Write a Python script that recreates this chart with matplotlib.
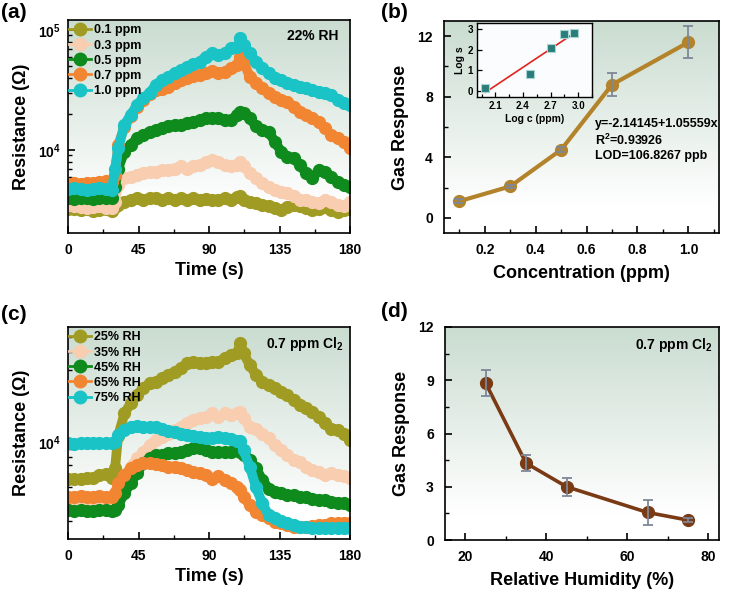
import numpy as np
import matplotlib
matplotlib.use('Agg')
import matplotlib.pyplot as plt
from matplotlib.colors import LinearSegmentedColormap
from matplotlib.lines import Line2D
from matplotlib.ticker import MultipleLocator, LogLocator, NullFormatter, FuncFormatter

plt.rcParams['font.family'] = ['Liberation Sans', 'DejaVu Sans']
plt.rcParams['font.weight'] = 'bold'
plt.rcParams['axes.labelweight'] = 'bold'
plt.rcParams['mathtext.fontset'] = 'custom'
plt.rcParams['mathtext.rm'] = 'Liberation Sans:bold'
plt.rcParams['mathtext.bf'] = 'Liberation Sans:bold'
plt.rcParams['mathtext.it'] = 'Liberation Sans:bold:italic'

# ---------------- data ----------------
# time grid (s), shared by the transient curves of (a) and (c)
time_s = [0, 4, 8, 12, 16, 20, 24, 28, 30,
          32, 36, 40, 44, 48, 52, 56, 60, 64, 68, 72, 76, 80, 84, 88, 92, 96, 100, 104, 108,
          110,
          112, 116, 120, 124, 128, 132, 136, 140, 144, 148, 152, 156, 160, 164, 168, 172, 176, 180]

# (a) resistance in kOhm at 22% RH
conc_labels = ['0.1 ppm', '0.3 ppm', '0.5 ppm', '0.7 ppm', '1.0 ppm']
r_01ppm = [3.25, 3.2, 3.15, 3.2, 3.1, 3.15, 3.2, 3.1, 3.35,
           3.5, 3.7, 3.85, 3.95, 3.85, 3.95, 4.0, 3.85, 3.95, 3.85, 3.95, 3.85, 3.95, 3.85, 3.9, 3.85, 3.85, 3.95, 3.85, 4.05,
           4.1,
           3.85, 3.7, 3.6, 3.5, 3.4, 3.3, 3.15, 3.35, 3.5, 3.4, 3.3, 3.15, 3.25, 3.35, 3.15, 3.05, 3.15, 3.25]
r_03ppm = [3.5, 3.4, 3.35, 3.3, 3.35, 3.4, 3.3, 3.27, 3.7,
           5.1, 5.8, 6.0, 6.2, 6.4, 6.6, 6.6, 6.8, 6.8, 7.0, 7.3, 7.0, 7.3, 7.5, 8.0, 8.25, 8.0, 7.5, 7.3, 7.5,
           8.0,
           7.3, 6.4, 5.8, 5.3, 4.9, 4.6, 4.5, 4.35, 4.1, 3.85, 3.85, 3.7, 3.6, 3.8, 3.7, 3.5, 3.4, 3.7]
r_05ppm = [3.95, 3.9, 4.0, 3.95, 3.9, 3.95, 4.0, 3.95, 4.9,
           7.0, 9.7, 11.0, 12.5, 13.3, 14.2, 14.7, 15.2, 15.7, 16.2, 16.2, 16.7, 17.2, 17.8, 18.4, 18.4, 18.4, 17.8, 17.8, 19.6,
           20.8,
           20.2, 18.4, 15.7, 14.7, 14.2, 11.7, 9.7, 8.8, 8.5, 7.5, 6.4, 5.8, 6.8, 6.6, 6.0, 5.4, 5.1, 4.9]
r_07ppm = [5.2, 5.3, 5.2, 5.3, 5.3, 5.4, 5.5, 5.4, 6.2,
           11.0, 15.5, 19.0, 23.0, 26.0, 29.0, 31.5, 32.0, 33.7, 35.9, 38.3, 39.6, 41.4, 42.2, 43.5, 45.5, 43.5, 45.0, 48.0, 51.1,
           59.9,
           54.4, 40.8, 35.9, 32.7, 29.7, 27.8, 26.1, 25.3, 23.0, 20.8, 19.6, 18.4, 17.2, 15.2, 13.3, 12.5, 11.7, 10.3]
r_10ppm = [4.7, 4.8, 4.7, 4.6, 4.7, 4.8, 4.7, 4.6, 7.0,
           10.3, 16.2, 19.6, 23.7, 27.0, 29.7, 34.8, 38.3, 40.8, 43.5, 46.4, 49.4, 51.8, 54.4, 59.9, 63.9, 61.9, 63.9, 70.3, 72.4,
           85.0,
           75.0, 63.9, 54.4, 48.0, 43.5, 39.6, 38.3, 35.9, 34.8, 33.7, 32.7, 31.6, 30.6, 29.7, 28.7, 26.1, 24.5, 23.7]

# (c) resistance in kOhm at 0.7 ppm Cl2
rh_labels = ['25% RH', '35% RH', '45% RH', '65% RH', '75% RH']
r_25rh = [5.7, 5.65, 5.7, 5.75, 5.8, 6.0, 6.1, 5.8, 6.7,
          11.0, 15.5, 18.1, 20.6, 22.8, 24.6, 25.2, 26.6, 28.0, 29.4, 31.0, 33.4, 34.3, 33.4, 33.4, 34.3, 34.3, 36.1, 38.0, 39.0,
          45.5,
          39.0, 32.6, 28.0, 25.2, 24.0, 22.8, 21.7, 20.6, 19.1, 17.6, 16.8, 15.9, 14.7, 13.3, 12.3, 12.0, 11.4, 10.3]
r_35rh = [4.0, 4.0, 3.95, 4.0, 4.05, 4.0, 3.95, 4.0, 4.15,
          5.0, 5.9, 6.85, 7.8, 8.6, 9.5, 10.3, 10.8, 11.4, 12.0, 12.6, 13.3, 14.0, 14.4, 14.7, 15.5, 14.7, 15.5, 15.1, 15.5,
          15.9,
          14.4, 12.6, 12.3, 11.4, 10.6, 9.5, 8.8, 8.2, 7.6, 7.4, 6.85, 6.5, 6.3, 6.0, 6.2, 6.0, 5.9, 5.8]
r_45rh = [3.5, 3.45, 3.5, 3.45, 3.45, 3.5, 3.5, 3.45, 3.5,
          3.8, 4.55, 5.3, 6.2, 7.2, 7.8, 8.2, 8.2, 8.4, 8.4, 8.6, 8.85, 9.1, 9.1, 8.85, 8.6, 8.6, 8.6, 8.6, 8.85,
          8.6,
          8.2, 7.6, 6.7, 5.6, 4.9, 4.65, 4.55, 4.45, 4.45, 4.3, 4.3, 4.2, 4.1, 4.1, 4.0, 3.95, 3.9, 3.8]
r_65rh = [4.3, 4.3, 4.35, 4.3, 4.3, 4.35, 4.3, 4.3, 4.55,
          5.3, 6.0, 6.7, 7.0, 7.2, 7.2, 7.15, 7.0, 6.85, 6.85, 6.7, 6.5, 6.3, 6.2, 6.0, 5.7, 5.9, 5.6, 5.3, 5.0,
          4.8,
          4.3, 3.8, 3.4, 3.25, 3.1, 2.95, 2.87, 2.8, 2.73, 2.73, 2.73, 2.75, 2.8, 2.82, 2.87, 2.88, 2.88, 2.87]
r_75rh = [9.8, 9.7, 9.8, 9.9, 9.8, 9.8, 9.9, 9.8, 10.0,
          11.1, 12.0, 12.6, 12.7, 12.6, 12.6, 12.5, 12.2, 11.9, 11.7, 11.4, 11.1, 11.0, 10.8, 10.7, 10.6, 10.8, 10.6, 10.4, 10.2,
          10.1,
          8.8, 6.85, 5.0, 3.9, 3.26, 3.1, 3.0, 2.87, 2.8, 2.73, 2.7, 2.66, 2.66, 2.66, 2.66, 2.66, 2.66, 2.68]

curve_colors = ['#a09b22', '#f8cdb0', '#0f8a1c', '#f28532', '#1ac3c6']

# (b) response vs concentration
conc_ppm = [0.1, 0.3, 0.5, 0.7, 1.0]
resp_conc = [1.1, 2.08, 4.5, 8.8, 11.6]
err_conc = [0.12, 0.12, 0.15, 0.75, 1.07]
# (b) inset: log s vs log c
log_c = [1.99, 2.48, 2.70, 2.85, 2.96]
log_s = [0.15, 0.81, 2.10, 2.76, 2.83]

# (d) response vs humidity
rh_pct = [25, 35, 45, 65, 75]
resp_rh = [8.85, 4.33, 3.0, 1.55, 1.12]
err_rh = [0.72, 0.47, 0.52, 0.7, 0.1]

# ---------------- figure ----------------
fig = plt.figure(figsize=(7.3, 5.94), dpi=100)

bg_cmap = LinearSegmentedColormap.from_list('bg', [(0, '#ffffff'), (0.12, '#ffffff'), (1, '#cadcd0')])


def add_bg(ax):
    grad = np.linspace(0, 1, 256).reshape(-1, 1)
    ax.imshow(grad, extent=[0, 1, 0, 1], transform=ax.transAxes, cmap=bg_cmap,
              aspect='auto', origin='lower', zorder=0, interpolation='bilinear')


def style(ax, xpad=7, ypad=5, size=10):
    for s in ax.spines.values():
        s.set_linewidth(1.2)
    ax.tick_params(which='both', direction='in', top=False, right=False)
    ax.tick_params(which='major', length=5, width=1.2, labelsize=size)
    ax.tick_params(which='minor', length=3, width=1.0)
    ax.tick_params(axis='x', which='major', pad=xpad)
    ax.tick_params(axis='y', which='major', pad=ypad)
    for lab in ax.get_xticklabels() + ax.get_yticklabels():
        lab.set_fontweight('bold')


pow_fmt = FuncFormatter(lambda v, p: r'$\mathbf{10^{%d}}$' % round(np.log10(v)))


def transient(ax, series, labels, ylim):
    add_bg(ax)
    handles = []
    for vals, lab, c in zip(series, labels, curve_colors):
        ohm = np.array(vals) * 1e3
        # thick band + dense round markers give the bumpy trace look
        ax.plot(time_s, ohm, '-', color=c, lw=7, solid_capstyle='round', solid_joinstyle='round', zorder=2)
        ax.plot(time_s, ohm, 'o', color=c, mec=c, ms=8.5, zorder=2)
        handles.append(Line2D([], [], color=c, lw=2, marker='o', ms=9, mec=c, label=lab))
    ax.set_yscale('log')
    ax.set_xlim(0, 180)
    ax.set_ylim(*ylim)
    ax.xaxis.set_major_locator(MultipleLocator(45))
    ax.xaxis.set_minor_locator(MultipleLocator(22.5))
    ax.yaxis.set_major_locator(LogLocator(base=10))
    ax.yaxis.set_minor_locator(LogLocator(base=10, subs=range(2, 10)))
    ax.yaxis.set_major_formatter(pow_fmt)
    ax.yaxis.set_minor_formatter(NullFormatter())
    ax.set_xlabel('Time (s)', fontsize=13, labelpad=4)
    ax.set_ylabel('Resistance (\u03a9)', fontsize=13, labelpad=6)
    ax.legend(handles=handles, loc='upper left', bbox_to_anchor=(0, 0.985), borderaxespad=0, borderpad=0.1,
              frameon=False, handlelength=1.7, handletextpad=0.25, labelspacing=0.25,
              prop={'weight': 'bold', 'size': 9})
    style(ax, ypad=5)


# (a)
ax1 = fig.add_axes([0.0932, 0.6077, 0.3863, 0.3586])
transient(ax1, [r_01ppm, r_03ppm, r_05ppm, r_07ppm, r_10ppm], conc_labels, (2030, 121000))
ax1.text(0.96, 0.925, '22% RH', transform=ax1.transAxes, ha='right', va='center', fontsize=10, fontweight='bold')

# (c)
ax3 = fig.add_axes([0.0932, 0.0926, 0.3863, 0.3569])
transient(ax3, [r_25rh, r_35rh, r_45rh, r_65rh, r_75rh], rh_labels, (2260, 58400))
ax3.text(0.975, 0.92, r'0.7 ppm Cl$_{\mathbf{2}}$', transform=ax3.transAxes, ha='right', va='center',
         fontsize=10, fontweight='bold')

# (b)
ax2 = fig.add_axes([0.6082, 0.6077, 0.3767, 0.3569])
add_bg(ax2)
ax2.plot(conc_ppm, resp_conc, '-o', color='#b3832b', lw=3, ms=8.5, zorder=3)
ax2.errorbar(conc_ppm, resp_conc, yerr=err_conc, fmt='none', ecolor='#7d8898', elinewidth=1.3,
             capsize=3.5, capthick=1.3, zorder=4)
ax2.set_xlim(0.04, 1.12)
ax2.set_ylim(-1, 13)
ax2.xaxis.set_major_locator(MultipleLocator(0.2))
ax2.xaxis.set_minor_locator(MultipleLocator(0.1))
ax2.xaxis.set_major_formatter(FuncFormatter(lambda v, p: '%.1f' % v))
ax2.yaxis.set_major_locator(MultipleLocator(4))
ax2.yaxis.set_minor_locator(MultipleLocator(2))
ax2.set_xlabel('Concentration (ppm)', fontsize=13, labelpad=6)
ax2.set_ylabel('Gas Response', fontsize=13, labelpad=6)
style(ax2, ypad=8)
for i, s in enumerate(['y=-2.14145+1.05559x', 'R$^{\\mathbf{2}}$=0.93926', 'LOD=106.8267 ppb']):
    ax2.text(0.55, 0.515 - i * 0.077, s, transform=ax2.transAxes, ha='left', va='center',
             fontsize=9, fontweight='bold')

# (b) inset
axi = fig.add_axes([0.6534, 0.8367, 0.1575, 0.1246])
axi.set_facecolor('#fafcfd')
axi.plot(log_c, log_s, 's', color='#2b7d7b', mec='#a9d6d2', mew=0.8, ms=5.5, zorder=3)
fit = np.polyfit(log_c, log_s, 1)
fx = np.array([min(log_c), max(log_c)])
axi.plot(fx, np.polyval(fit, fx), '-', color='#e0241c', lw=1.2, zorder=2)
axi.set_xlim(1.9, 3.15)
axi.set_ylim(-0.31, 3.31)
axi.xaxis.set_major_locator(MultipleLocator(0.3))
axi.xaxis.set_minor_locator(MultipleLocator(0.15))
axi.yaxis.set_major_locator(MultipleLocator(1))
axi.set_xlabel('Log c (ppm)', fontsize=7.5, labelpad=2)
axi.set_ylabel('Log s', fontsize=7.5, labelpad=2)
for s in axi.spines.values():
    s.set_linewidth(1.0)
axi.tick_params(which='both', direction='in', top=False, right=False, labelsize=7, width=0.9)
axi.tick_params(which='major', length=3.5, pad=3)
axi.tick_params(which='minor', length=2)

# (d)
ax4 = fig.add_axes([0.6096, 0.0909, 0.3753, 0.3586])
add_bg(ax4)
ax4.plot(rh_pct, resp_rh, '-o', color='#7a3a14', lw=2.6, ms=8.5, zorder=3)
ax4.errorbar(rh_pct, resp_rh, yerr=err_rh, fmt='none', ecolor='#7d8898', elinewidth=1.3,
             capsize=3.5, capthick=1.3, zorder=4)
ax4.set_xlim(15, 82.6)
ax4.set_ylim(0, 12)
ax4.xaxis.set_major_locator(MultipleLocator(20))
ax4.xaxis.set_minor_locator(MultipleLocator(10))
ax4.yaxis.set_major_locator(MultipleLocator(3))
ax4.yaxis.set_minor_locator(MultipleLocator(1.5))
ax4.set_xlabel('Relative Humidity (%)', fontsize=13, labelpad=6)
ax4.set_ylabel('Gas Response', fontsize=13, labelpad=6)
style(ax4, ypad=8)
ax4.text(0.975, 0.915, r'0.7 ppm Cl$_{\mathbf{2}}$', transform=ax4.transAxes, ha='right', va='center',
         fontsize=10, fontweight='bold')

# panel letters
for lab, x, y in [('(a)', 0.002, 0.995), ('(b)', 0.522, 0.995), ('(c)', 0.002, 0.487), ('(d)', 0.522, 0.492)]:
    fig.text(x, y, lab, ha='left', va='top', fontsize=15, fontweight='bold')

fig.savefig('out.png', dpi=100)
